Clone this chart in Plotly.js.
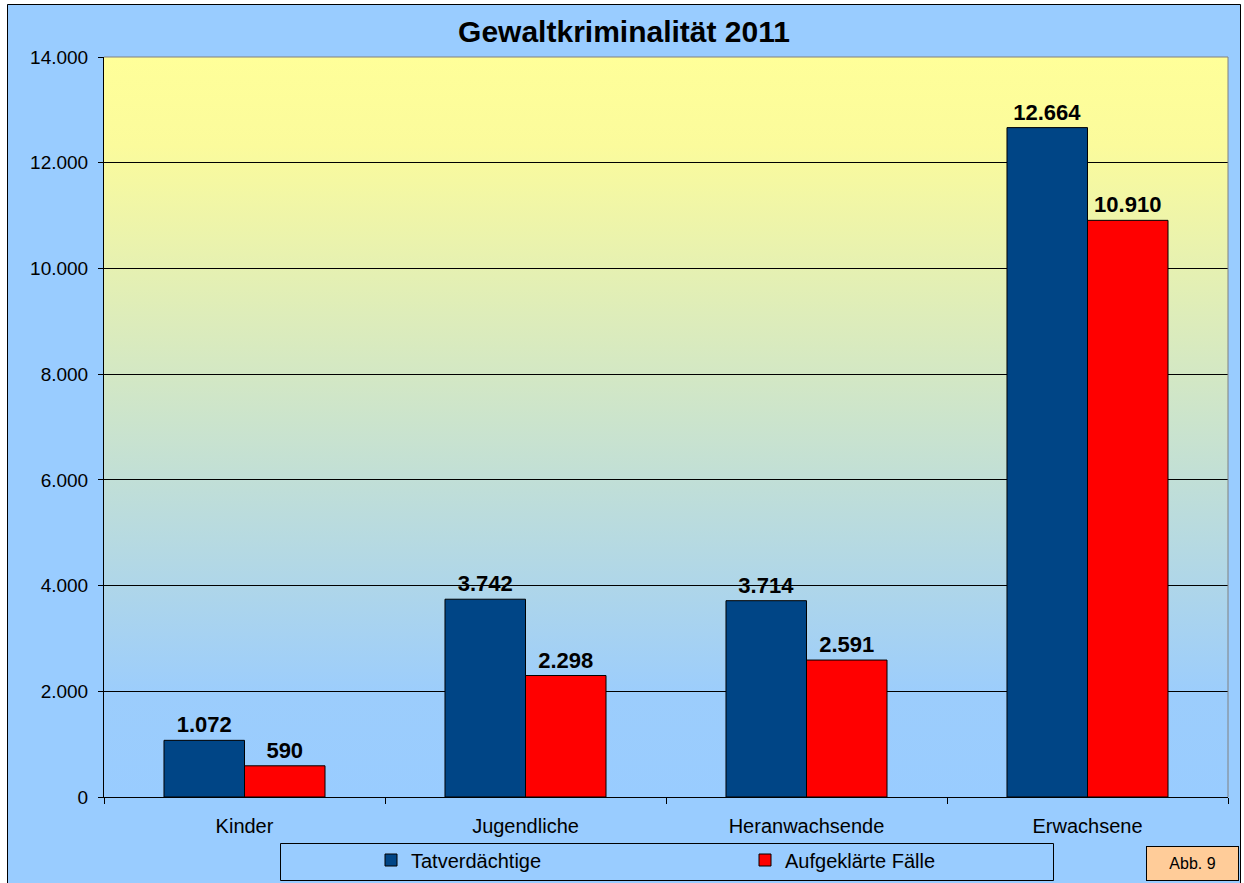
<!DOCTYPE html>
<html>
<head>
<meta charset="utf-8">
<script src="https://cdn.plot.ly/plotly-3.0.1.min.js"></script>
<style>html,body{margin:0;padding:0;background:#fff;}#chart{width:1244px;height:883px;}</style>
</head>
<body>
<div id="chart"></div>
<script>
// ---- data ----
const categories = ["Kinder", "Jugendliche", "Heranwachsende", "Erwachsene"];
const tatverdaechtige = [1072, 3742, 3714, 12664];
const aufgeklaerte = [590, 2298, 2591, 10910];
const seriesNames = ["Tatverdächtige", "Aufgeklärte Fälle"];
const yTickVals = [0, 2000, 4000, 6000, 8000, 10000, 12000, 14000];
const chartTitle = "Gewaltkriminalität 2011";
const figLabel = "Abb. 9";

// ---- layout helpers (pixel -> paper fraction) ----
const W = 1244, H = 883;
const M = {l: 104, r: 16, t: 57, b: 86, autoexpand: false};
const PW = W - M.l - M.r, PH = H - M.t - M.b;
const px2x = p => (p - M.l) / PW;
const px2y = p => (H - M.b - p) / PH;

const FONT = "Liberation Sans, Arial, Helvetica, sans-serif";

const svgGrad = '<svg xmlns="http://www.w3.org/2000/svg" width="100" height="100" preserveAspectRatio="none">' +
  '<defs><linearGradient id="g" x1="0" y1="0" x2="0" y2="1">' +
  '<stop offset="0" stop-color="#FFFF99"/>' +
  '<stop offset="0.12" stop-color="#FBFB9C"/>' +
  '<stop offset="0.86" stop-color="#9CCDFC"/>' +
  '<stop offset="1" stop-color="#99CCFF"/>' +
  '</linearGradient></defs><rect width="100" height="100" fill="url(#g)"/></svg>';
const gradURI = 'data:image/svg+xml;charset=utf-8,' + encodeURIComponent(svgGrad);

const labelFont = {family: FONT, size: 22, color: "#000"};

const traces = [
  {
    type: "bar", name: seriesNames[0], x: categories, y: tatverdaechtige,
    marker: {color: "#004586", line: {color: "#000", width: 1}},
    texttemplate: "<b>%{y:,}</b>", textposition: "outside", textfont: labelFont,
    cliponaxis: false, hoverinfo: "x+y"
  },
  {
    type: "bar", name: seriesNames[1], x: categories, y: aufgeklaerte,
    marker: {color: "#FF0000", line: {color: "#000", width: 1}},
    texttemplate: "<b>%{y:,}</b>", textposition: "outside", textfont: labelFont,
    cliponaxis: false, hoverinfo: "x+y"
  }
];

const layout = {
  width: W, height: H, autosize: false,
  margin: M,
  paper_bgcolor: "#99CCFF",
  plot_bgcolor: "rgba(0,0,0,0)",
  separators: ",.",
  font: {family: FONT, color: "#000"},
  title: {
    text: "<b>" + chartTitle + "</b>",
    font: {family: FONT, size: 30, color: "#000"},
    x: 624 / W, xref: "container", xanchor: "center",
    y: 1 - 31 / H, yref: "container", yanchor: "middle"
  },
  barmode: "group", bargap: 0.427, bargroupgap: 0,
  xaxis: {
    type: "category", tickson: "boundaries", ticks: "outside", ticklen: 6,
    tickcolor: "#000", tickwidth: 1, showline: true, linecolor: "#000", linewidth: 1,
    showgrid: false, ticklabelstandoff: 11,
    tickfont: {family: FONT, size: 20, color: "#000"}
  },
  yaxis: {
    range: [0, 14000], tickvals: yTickVals, tickformat: ",",
    ticks: "outside", ticklen: 5, tickcolor: "#000", tickwidth: 1,
    showline: true, linecolor: "#000", linewidth: 1,
    showgrid: true, gridcolor: "#000", gridwidth: 1, zeroline: false,
    ticklabelstandoff: 6,
    tickfont: {family: FONT, size: 19, color: "#000"}
  },
  showlegend: true,
  legend: {
    orientation: "h", x: px2x(371), xanchor: "left", y: px2y(860), yanchor: "middle",
    font: {family: FONT, size: 20, color: "#000"},
    bgcolor: "rgba(0,0,0,0)", borderwidth: 0,
    entrywidth: 329, entrywidthmode: "pixels", traceorder: "normal"
  },
  images: [{
    source: gradURI, xref: "paper", yref: "paper", x: 0, y: 1, sizex: 1, sizey: 1,
    xanchor: "left", yanchor: "top", sizing: "stretch", layer: "below"
  }],
  shapes: [
    // white outside margins of the chart frame
    {type: "rect", xref: "paper", yref: "paper", x0: px2x(0), x1: px2x(7), y0: px2y(H), y1: px2y(0), fillcolor: "#fff", line: {width: 0}},
    {type: "rect", xref: "paper", yref: "paper", x0: px2x(0), x1: px2x(W), y0: px2y(4), y1: px2y(0), fillcolor: "#fff", line: {width: 0}},
    {type: "rect", xref: "paper", yref: "paper", x0: px2x(1241), x1: px2x(W), y0: px2y(H), y1: px2y(0), fillcolor: "#fff", line: {width: 0}},
    // frame
    {type: "rect", xref: "paper", yref: "paper", x0: px2x(7.5), x1: px2x(1240.5), y0: px2y(H + 5), y1: px2y(4.5), line: {color: "#000", width: 1}},
    // plot area top/right border (grey)
    {type: "line", xref: "paper", yref: "paper", x0: 0, x1: 1, y0: 1, y1: 1, line: {color: "#808080", width: 1}},
    {type: "line", xref: "paper", yref: "paper", x0: 1, x1: 1, y0: 0, y1: 1, line: {color: "#808080", width: 1}},
    // legend box
    {type: "rect", xref: "paper", yref: "paper", x0: px2x(280.5), x1: px2x(1053.5), y0: px2y(880.5), y1: px2y(843.5), line: {color: "#000", width: 1}}
  ],
  annotations: [{
    text: figLabel, xref: "paper", yref: "paper", x: px2x(1192.5), y: px2y(863.5),
    xanchor: "center", yanchor: "middle", showarrow: false,
    bgcolor: "#FFCC99", bordercolor: "#000", borderwidth: 1, width: 89, height: 31,
    font: {family: FONT, size: 16, color: "#000"}
  }]
};

Plotly.newPlot("chart", traces, layout, {displayModeBar: false, staticPlot: true});
</script>
</body>
</html>
